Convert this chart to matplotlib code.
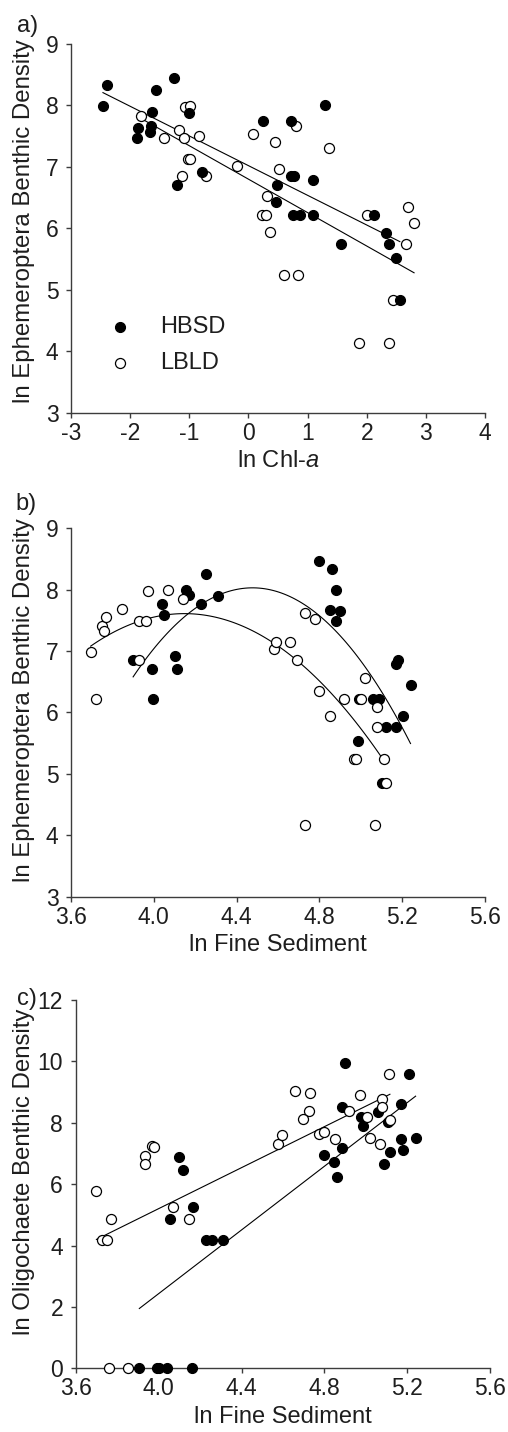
import numpy as np
import matplotlib.pyplot as plt

plt.rcParams['font.family'] = ['Liberation Sans', 'DejaVu Sans']
plt.rcParams['axes.unicode_minus'] = False
plt.rcParams['mathtext.fontset'] = 'custom'
plt.rcParams['mathtext.rm'] = 'Liberation Sans'
plt.rcParams['mathtext.it'] = 'Liberation Sans:italic'

# --- (a) Ephemeroptera vs ln Chl-a ---------------------------------------
a_hbsd_x = [-2.40, -2.46, -1.56, -1.26, -1.63, -1.01, -1.87, -1.89, -1.65, -1.67,
            -0.78, -1.21, 0.24, 0.72, 1.30, 0.72, 0.77, 1.09, 0.48, 0.46,
            0.75, 0.87, 1.09, 2.12, 2.32, 1.56, 2.37, 2.50, 2.56]
a_hbsd_y = [8.33, 7.99, 8.25, 8.44, 7.90, 7.87, 7.63, 7.47, 7.67, 7.56,
            6.91, 6.70, 7.75, 7.75, 8.00, 6.85, 6.85, 6.78, 6.70, 6.43,
            6.22, 6.22, 6.22, 6.22, 5.93, 5.75, 5.75, 5.52, 4.83]
a_lbld_x = [-1.81, -1.07, -0.98, -1.17, -1.09, -1.42, -0.83, -1.03, -0.99, -1.12,
            -0.71, -0.19, 0.08, 0.45, 0.81, 1.36, 0.52, 0.32, 0.23, 0.29,
            0.37, 2.01, 2.69, 2.80, 2.66, 0.60, 0.83, 2.44, 1.87, 2.37]
a_lbld_y = [7.82, 7.97, 7.99, 7.60, 7.47, 7.47, 7.50, 7.13, 7.13, 6.85,
            6.85, 7.02, 7.54, 7.40, 7.66, 7.31, 6.97, 6.53, 6.22, 6.22,
            5.94, 6.22, 6.34, 6.08, 5.75, 5.24, 5.24, 4.83, 4.14, 4.14]
# linear fits: intercept, slope
a_hbsd_fit = (7.02, -0.483)
a_lbld_fit = (6.80, -0.544)

# --- (b) Ephemeroptera vs ln fine sediment -------------------------------
b_hbsd_x = [4.154, 4.17, 4.25, 4.31, 4.23, 4.04, 4.05, 3.90, 3.99, 4.10,
            4.11, 4.80, 4.86, 4.88, 4.85, 4.90, 4.88, 5.17, 5.18, 3.995,
            4.99, 5.06, 5.09, 5.12, 5.17, 5.205, 5.24, 4.985, 5.10]
b_hbsd_y = [7.99, 7.91, 8.26, 7.89, 7.76, 7.76, 7.58, 6.86, 6.71, 6.92,
            6.71, 8.46, 8.34, 8.00, 7.67, 7.65, 7.49, 6.79, 6.85, 6.22,
            6.22, 6.22, 6.22, 5.76, 5.76, 5.94, 6.45, 5.54, 4.85]
b_lbld_x = [3.695, 3.75, 3.758, 3.77, 3.846, 3.93, 3.96, 3.97, 4.07, 4.14,
            3.93, 4.73, 4.78, 4.58, 4.59, 4.66, 4.69, 5.02, 3.72, 4.80,
            4.85, 4.92, 5.00, 5.08, 5.08, 4.965, 4.975, 5.11, 5.12, 4.73, 5.07]
b_lbld_y = [6.99, 7.41, 7.33, 7.55, 7.68, 7.49, 7.49, 7.98, 8.00, 7.84,
            6.86, 7.62, 7.52, 7.04, 7.14, 7.14, 6.86, 6.56, 6.22, 6.35,
            5.94, 6.22, 6.22, 6.09, 5.76, 5.25, 5.25, 5.25, 4.85, 4.16, 4.16]
# quadratic fits: peak x, peak y, curvature, x range
b_hbsd_fit = (4.477, 8.03, 4.355, 3.90, 5.24)
b_lbld_fit = (4.148, 7.61, 2.58, 3.695, 5.12)

# --- (c) Oligochaete vs ln fine sediment ---------------------------------
c_hbsd_x = [4.055, 4.10, 4.116, 4.166, 4.227, 4.259, 4.31, 4.80, 4.847, 4.86,
            4.883, 4.883, 4.898, 4.975, 4.987, 5.057, 5.086, 5.105, 5.116, 5.17,
            5.171, 5.18, 5.208, 5.24, 3.907, 3.99, 4.00, 4.04, 4.16]
c_hbsd_y = [4.86, 6.87, 6.47, 5.26, 4.18, 4.18, 4.18, 6.94, 6.72, 6.24,
            7.17, 8.52, 9.95, 8.20, 7.90, 8.34, 6.65, 8.03, 7.05, 7.46,
            8.62, 7.11, 9.58, 7.50, 0, 0, 0, 0, 0]
c_lbld_x = [3.698, 3.725, 3.752, 3.77, 3.934, 3.934, 3.967, 3.978, 4.07, 4.147,
            4.577, 4.594, 4.66, 4.73, 4.725, 4.698, 4.775, 4.80, 4.85, 4.92,
            4.97, 5.005, 5.02, 5.07, 5.08, 5.08, 5.116, 5.113, 3.76, 3.85]
c_lbld_y = [5.78, 4.18, 4.18, 4.86, 6.93, 6.65, 7.25, 7.20, 5.26, 4.86,
            7.30, 7.59, 9.02, 8.97, 8.37, 8.11, 7.62, 7.69, 7.46, 8.37,
            8.91, 8.20, 7.50, 7.31, 8.77, 8.52, 8.09, 9.60, 0, 0]
# linear fits: intercept, slope, x range
c_hbsd_fit = (-18.33, 5.19, 3.907, 5.24)
c_lbld_fit = (-8.16, 3.34, 3.70, 5.116)

AXIS_COL = '#3c3c3c'
TXT_COL = '#1e1e1e'
FS = 16.5
LBL_FS = 17.3


def style(ax, xlim, ylim, xticks, yticks, xfmt):
    ax.set_xlim(*xlim)
    ax.set_ylim(*ylim)
    ax.set_xticks(xticks)
    ax.set_yticks(yticks)
    ax.set_xticklabels([xfmt.format(v) for v in xticks])
    for s in ['top', 'right']:
        ax.spines[s].set_visible(False)
    for s in ['left', 'bottom']:
        ax.spines[s].set_color(AXIS_COL)
        ax.spines[s].set_linewidth(1.0)
    ax.tick_params(direction='out', length=3.6, width=1.0, color=AXIS_COL,
                   labelsize=FS, labelcolor=TXT_COL)
    ax.tick_params(axis='y', pad=5.5)
    ax.tick_params(axis='x', pad=3.0)


def points(ax, x, y, filled, z):
    if filled:
        return ax.scatter(x, y, s=52, facecolors='black', edgecolors='black',
                          linewidths=0.8, zorder=z, clip_on=False)
    return ax.scatter(x, y, s=52, facecolors='white', edgecolors='black',
                      linewidths=0.9, zorder=z, clip_on=False)


fig = plt.figure(figsize=(5.08, 14.32), dpi=100)

# (a)
ax = fig.add_axes([0.1398, 0.7118, 0.815, 0.2575])
style(ax, (-3, 4), (3, 9), range(-3, 5), range(3, 10), '{:d}')
h_open = points(ax, a_lbld_x, a_lbld_y, False, 3)
h_fill = points(ax, a_hbsd_x, a_hbsd_y, True, 4)
xx = np.linspace(min(a_hbsd_x), max(a_hbsd_x), 50)
ax.plot(xx, a_hbsd_fit[0] + a_hbsd_fit[1] * xx, color='black', lw=0.8, zorder=2)
xx = np.linspace(min(a_lbld_x), max(a_lbld_x), 50)
ax.plot(xx, a_lbld_fit[0] + a_lbld_fit[1] * xx, color='black', lw=0.8, zorder=2)
ax.set_xlabel('ln Chl-$\\mathit{a}$', fontsize=17, color=TXT_COL)
ax.set_ylabel('ln Ephemeroptera Benthic Density', fontsize=LBL_FS, color=TXT_COL)
ax.yaxis.set_label_coords(-0.087, 0.519)
ax.legend([h_fill, h_open], ['HBSD', 'LBLD'], frameon=False, loc='upper left',
          bbox_to_anchor=(0.09, 0.263), handlelength=1.0, handletextpad=1.2,
          labelspacing=0.6, borderpad=0, borderaxespad=0, fontsize=17,
          scatterpoints=1, labelcolor=TXT_COL)

# (b)
ax = fig.add_axes([0.1398, 0.3738, 0.815, 0.2573])
style(ax, (3.6, 5.6), (3, 9), np.arange(3.6, 5.61, 0.4), range(3, 10), '{:.1f}')
points(ax, b_hbsd_x, b_hbsd_y, True, 3)
points(ax, b_lbld_x, b_lbld_y, False, 4)
for fit in (b_hbsd_fit, b_lbld_fit):
    px, py, k, x0, x1 = fit
    xx = np.linspace(x0, x1, 100)
    ax.plot(xx, py - k * (xx - px) ** 2, color='black', lw=0.8, zorder=2)
ax.set_xlabel('ln Fine Sediment', fontsize=17, color=TXT_COL)
ax.set_ylabel('ln Ephemeroptera Benthic Density', fontsize=LBL_FS, color=TXT_COL)
ax.yaxis.set_label_coords(-0.087, 0.533)

# (c)
ax = fig.add_axes([0.149, 0.0445, 0.816, 0.2572])
style(ax, (3.6, 5.6), (0, 12), np.arange(3.6, 5.61, 0.4), range(0, 13, 2), '{:.1f}')
points(ax, c_hbsd_x, c_hbsd_y, True, 3)
points(ax, c_lbld_x, c_lbld_y, False, 4)
for fit in (c_hbsd_fit, c_lbld_fit):
    b0, b1, x0, x1 = fit
    xx = np.linspace(x0, x1, 50)
    ax.plot(xx, b0 + b1 * xx, color='black', lw=0.8, zorder=2)
ax.set_xlabel('ln Fine Sediment', fontsize=17, color=TXT_COL)
ax.set_ylabel('ln Oligochaete Benthic Density', fontsize=LBL_FS, color=TXT_COL)
ax.yaxis.set_label_coords(-0.098, 0.533)

for lbl, ypx, xpx in [('a)', 32, 17), ('b)', 510, 15), ('c)', 1005, 17)]:
    fig.text(xpx / 508, 1 - ypx / 1432, lbl, fontsize=17, color=TXT_COL,
             va='baseline', ha='left')

fig.savefig('out.png', dpi=100)
